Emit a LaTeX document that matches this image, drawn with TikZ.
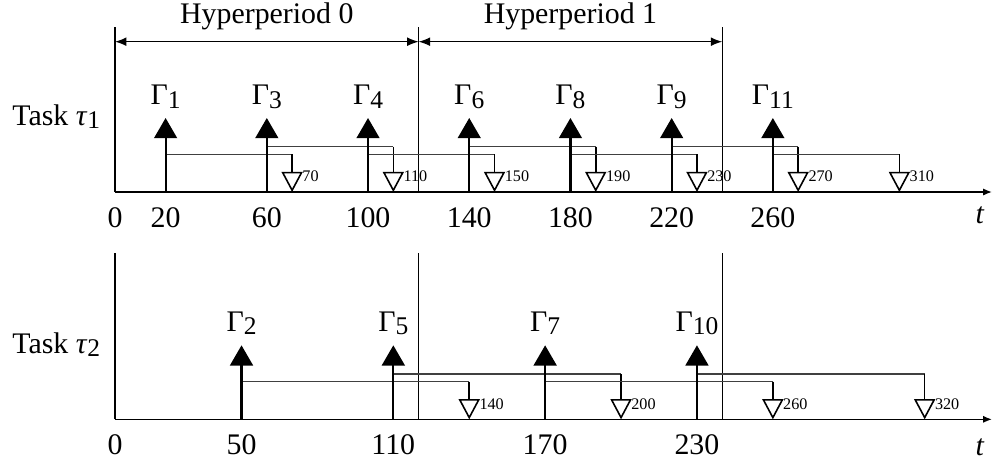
\documentclass[tikz,border=0pt]{standalone}
\usepackage{fontspec}
\setmainfont{Liberation Serif}
\usetikzlibrary{arrows.meta, calc}

\newcommand{\gsub}[1]{\raisebox{-1.8pt}{\fontsize{14.5}{14.5}\selectfont #1}}

\tikzset{
  axisline/.style={-{Latex[length=5pt, width=4pt]}, line width=0.8pt},
  periodline/.style={line width=0.6pt},
  span/.style={{Latex[length=6.5pt, width=5pt]}-{Latex[length=6.5pt, width=5pt]}, line width=0.7pt},
  release/.style={-{Triangle[width=13pt, length=11.5pt]}, line width=1.2pt},
  deadline/.style={-{Triangle[open, width=12pt, length=11.5pt, fill=white]}, line width=0.9pt},
  link/.style={black!75, line width=0.6pt},
  big/.style={font=\fontsize{17}{17}\selectfont, inner sep=0pt},
  small/.style={font=\fontsize{9.2}{9.2}\selectfont, inner sep=0.5pt},
}

\begin{document}
\begin{tikzpicture}[x=0.506mm, y=0.2mm]
  \useasboundingbox (-45.45,0) rectangle (347,463);

  % --- Hyperperiods ---
  \coordinate (h0) at (0,421.3);
  \coordinate (h1) at (120,421.3);
  \coordinate (h2) at (240,421.3);
  \draw[span] (h0) -- (h1);
  \draw[span] (h1) -- (h2);
  \node[big, anchor=base] (hp0) at (60,439) {Hyperperiod 0};
  \node[big, anchor=base] (hp1) at (180,439) {Hyperperiod 1};

  % --- Task tau_1 ---
  \coordinate (o1) at (0,271);
  \coordinate (e1) at (346.6,271);
  \foreach \t in {0,120,240} {
    \draw[periodline] (\t,271) -- (\t,436);
  }
  \node[big, anchor=base west] (task1) at (-40.7,338) {Task \textit{τ}\gsub{1}};
  \foreach \id/\rel/\h in {1/20/308.7, 3/60/316.3, 4/100/308.7, 6/140/316.3, 8/180/308.7, 9/220/316.3, 11/260/308.7} {
    \pgfmathtruncatemacro{\dl}{\rel+50}
    \coordinate (r\id) at (\rel,271);
    \coordinate (d\id) at (\dl,271);
    \draw[link] (\rel,\h) -- (\dl,\h);
    \draw[deadline] (\dl,\h) -- (d\id);
    \draw[release] (r\id) -- ++(0,74);
    \node[big, anchor=base] (g\id) at (\rel,358) {Γ\gsub{\id}};
    \node[small, anchor=west] (dl\id) at (\dl+3.6,286.5) {\dl};
  }
  \draw[axisline] (o1) -- (e1);
  \foreach \t in {0,20,60,100,140,180,220,260} {
    \node[big, anchor=base] (ta\t) at (\t,236) {\t};
  }
  \node[big, anchor=base] (t1) at (341.9,240) {\textit{t}};

  % --- Task tau_2 ---
  \coordinate (o2) at (0,43.7);
  \coordinate (e2) at (346.6,43.7);
  \foreach \t in {0,120,240} {
    \draw[periodline] (\t,43.7) -- (\t,210);
  }
  \node[big, anchor=base west] (task2) at (-40.7,110) {Task \textit{τ}\gsub{2}};
  \foreach \id/\rel/\h in {2/50/81.3, 5/110/89, 7/170/81.3, 10/230/89} {
    \pgfmathtruncatemacro{\dl}{\rel+90}
    \coordinate (r\id) at (\rel,43.7);
    \coordinate (d\id) at (\dl,43.7);
    \draw[link] (\rel,\h) -- (\dl,\h);
    \draw[deadline] (\dl,\h) -- (d\id);
    \draw[release] (r\id) -- ++(0,74);
    \node[big, anchor=base] (g\id) at (\rel,131.3) {Γ\gsub{\id}};
    \node[small, anchor=west] (dl\id) at (\dl+3.6,59.2) {\dl};
  }
  \draw[axisline] (o2) -- (e2);
  \foreach \t in {0,50,110,170,230} {
    \node[big, anchor=base] (tb\t) at (\t,9) {\t};
  }
  \node[big, anchor=base] (t2) at (341.9,8) {\textit{t}};
\end{tikzpicture}
\end{document}
